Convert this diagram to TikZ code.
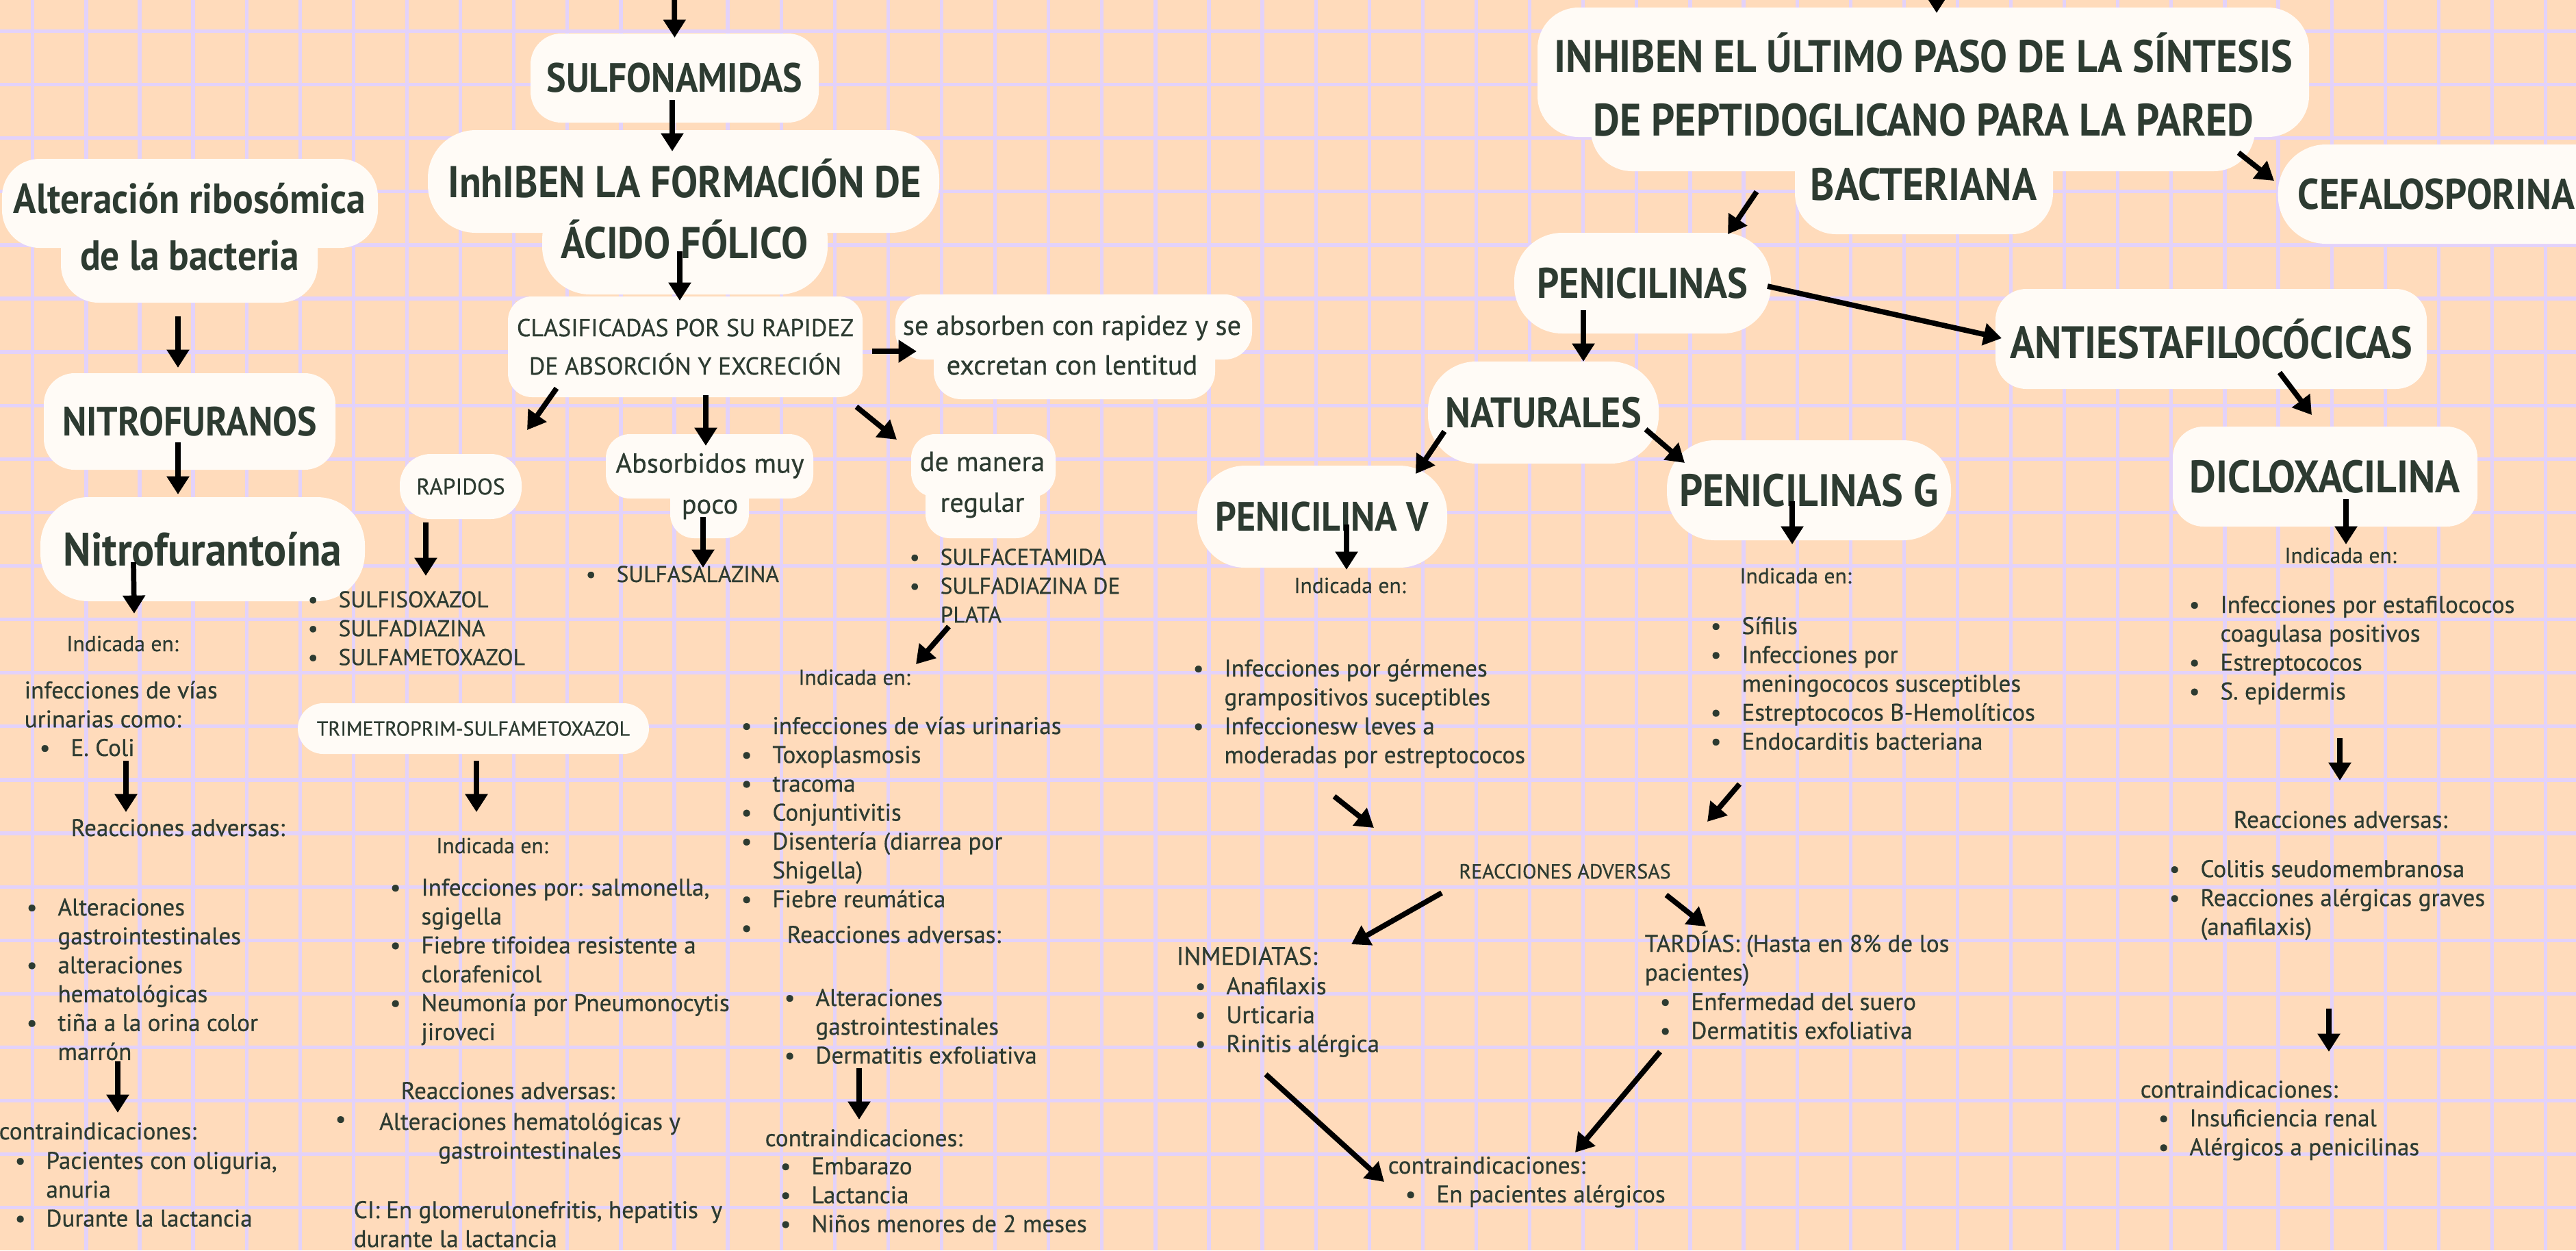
\documentclass[tikz,border=0pt]{standalone}
\usepackage{fontspec}
\setmainfont{PT Sans}[FakeBold=0.6]
\newfontfamily\gruesa{PT Sans Bold}[FakeStretch=0.9]
\usetikzlibrary{arrows.meta}

\definecolor{fondo}{HTML}{FFDBBB}
\definecolor{rejilla}{HTML}{E3D2FA}
\definecolor{crema}{HTML}{FFFBF6}
\definecolor{tinta}{HTML}{2D3B31}

\newcommand{\cuerpo}{\fontsize{10}{12}\selectfont}
\newcommand{\chica}{\fontsize{9}{12}\selectfont}
\newcommand{\mayus}{\fontsize{9.5}{12}\selectfont}
\newcommand{\titular}{\gruesa\fontsize{18.9}{21}\selectfont}
\newcommand{\lista}[1]{\begin{tabular}[t]{@{}l@{\hspace{8.5pt}}l@{}}#1\end{tabular}}
\newcommand{\lineas}[1]{\begin{tabular}[t]{@{}l@{}}#1\end{tabular}}

\begin{document}
\begin{tikzpicture}[x=1cm, y=-1cm,
    caja/.style={fill=crema, rounded corners=0.45cm, inner sep=0pt, text=tinta},
    titulo/.style={caja, font=\titular},
    texto/.style={inner sep=0pt, text=tinta, font=\cuerpo},
    mancha/.style={fill=crema, rounded corners=#1},
    mancha/.default=0.5cm,
    linea/.style={draw=rejilla, line width=1.5pt},
    flecha/.style={line width=2.2pt, -{Triangle[width=9pt,length=7.5pt]}}]
    \useasboundingbox (0,0) rectangle (37.63,18.26);
    \fill[fondo] (0,0) rectangle (37.63,18.26);
    % cuadricula
    \foreach \i in {0,...,47}
        \draw[linea] ({0.478+0.781*\i},0) -- ({0.478+0.781*\i},18.26);
    \foreach \j in {0,...,22}
        \draw[linea] (0,{0.455+0.781*\j}) -- (37.63,{0.455+0.781*\j});

    % Nitrofuranos
    \fill[mancha=0.55cm] (0.03,2.32) rectangle (5.52,3.62) (0.89,3.0) rectangle (4.64,4.42);
    \node[texto, font={\gruesa\fontsize{17.5}{23.6}\selectfont}, align=center] (alt) at (2.77,3.315) {Alteración ribosómica\\de la bacteria};
    \node[titulo, minimum width=4.26cm, minimum height=1.41cm, font={\gruesa\fontsize{17}{20}\selectfont}] (nitros) at (2.77,6.155) {NITROFURANOS};
    \node[titulo, rounded corners=0.7cm, minimum width=4.74cm, minimum height=1.52cm, font={\gruesa\fontsize{19.5}{22}\selectfont}] (nitro) at (2.96,8.02) {Nitrofurantoína};
    \node[texto, anchor=base, font=\chica] (ind1) at (1.79,9.51) {Indicada en:};
    \node[texto, anchor=base west] (inf1) at (0.35,10.20) {\lineas{infecciones de vías\\urinarias como:}};
    \node[texto, anchor=base west] (inf1l) at (0.57,11.04) {\lista{\textbullet & E. Coli}};
    \node[texto, anchor=base] (ra1) at (2.60,12.21) {Reacciones adversas:};
    \node[texto, anchor=base west] (ra1l) at (0.38,13.37) {\lista{\textbullet & Alteraciones\\ & gastrointestinales\\ \textbullet & alteraciones\\ & hematológicas\\ \textbullet & tiña a la orina color\\ & marrón}};
    \node[texto, anchor=base west] (ci1) at (-0.02,16.64) {contraindicaciones:};
    \node[texto, anchor=base west] (ci1l) at (0.21,17.07) {\lista{\textbullet & Pacientes con oliguria,\\ & anuria\\ \textbullet & Durante la lactancia}};

    % Sulfonamidas
    \coordinate (entrada1) at (9.85,-0.3);
    \node[titulo, minimum width=4.21cm, minimum height=1.30cm, font={\gruesa\fontsize{17}{20}\selectfont}] (sulfa) at (9.855,1.14) {SULFONAMIDAS};
    \fill[mancha=0.7cm] (6.25,1.90) rectangle (13.72,3.40) (7.92,2.8) rectangle (12.09,4.30);
    \node[texto, font={\gruesa\fontsize{18.5}{25.3}\selectfont}, align=center] (inhfol) at (10.0,3.055) {InhIBEN LA FORMACIÓN DE\\ÁCIDO FÓLICO};
    \node[caja, rounded corners=0.35cm, minimum width=5.18cm, minimum height=1.47cm, font={\fontsize{10.2}{15.9}\selectfont}, align=center] (clasif) at (10.01,5.065) {CLASIFICADAS POR SU RAPIDEZ\\DE ABSORCIÓN Y EXCRECIÓN};
    \fill[mancha=0.4cm] (13.08,4.30) rectangle (18.29,5.25) (13.64,4.6) rectangle (17.75,5.83);
    \node[texto, font={\fontsize{11.5}{16.5}\selectfont}, align=center] (rapid) at (15.66,5.04) {se absorben con rapidez y se\\excretan con lentitud};
    \node[caja, minimum width=1.78cm, minimum height=0.95cm, font={\fontsize{9.5}{11}\selectfont}] (rapidos) at (6.73,7.105) {RAPIDOS};
    \fill[mancha=0.35cm] (8.85,6.34) rectangle (11.88,7.28) (9.79,6.9) rectangle (10.94,7.86);
    \node[texto, font={\fontsize{11.5}{17}\selectfont}, align=center] (absorb) at (10.37,7.10) {Absorbidos muy\\poco};
    \fill[mancha=0.35cm] (13.31,6.34) rectangle (15.42,7.26) (13.52,6.9) rectangle (15.19,7.86);
    \node[texto, font={\fontsize{11.5}{17}\selectfont}, align=center] (regular) at (14.35,7.08) {de manera\\regular};
    \node[texto, anchor=base west, font=\mayus] (rapl) at (4.49,8.87) {\lista{\textbullet & SULFISOXAZOL\\ \textbullet & SULFADIAZINA\\ \textbullet & SULFAMETOXAZOL}};
    \node[texto, anchor=base west, font=\mayus] (sulfas) at (8.55,8.50) {\lista{\textbullet & SULFASALAZINA}};
    \node[texto, anchor=base west, font=\mayus] (regl) at (13.28,8.25) {\lista{\textbullet & SULFACETAMIDA\\ \textbullet & SULFADIAZINA DE\\ & PLATA}};
    \node[caja, rounded corners=0.37cm, minimum width=5.13cm, minimum height=0.74cm, font={\fontsize{8.5}{10}\selectfont}] (trime) at (6.915,10.64) {TRIMETROPRIM-SULFAMETOXAZOL};
    \node[texto, anchor=base, font=\chica] (ind2) at (7.19,12.46) {Indicada en:};
    \node[texto, anchor=base west] (ind2l) at (5.69,13.08) {\lista{\textbullet & Infecciones por: salmonella,\\ & sgigella\\ \textbullet & Fiebre tifoidea resistente a\\ & clorafenicol\\ \textbullet & Neumonía por Pneumonocytis\\ & jiroveci}};
    \node[texto, anchor=base] (ra2) at (7.42,16.05) {Reacciones adversas:};
    \node[texto, anchor=base west] (ra2b) at (4.89,16.46) {\textbullet};
    \node[texto, anchor=base] (ra2t) at (7.74,16.50) {\begin{tabular}[t]{@{}c@{}}Alteraciones hematológicas y\\gastrointestinales\end{tabular}};
    \node[texto, anchor=base west] (ci2) at (5.16,17.79) {\lineas{CI: En glomerulonefritis, hepatitis\ \ y\\durante la lactancia}};
    \node[texto, anchor=base, font=\chica] (ind3) at (12.48,10.00) {Indicada en:};
    \node[texto, anchor=base west] (ind3l) at (10.82,10.72) {\lista{\textbullet & infecciones de vías urinarias\\ \textbullet & Toxoplasmosis\\ \textbullet & tracoma\\ \textbullet & Conjuntivitis\\ \textbullet & Disentería (diarrea por\\ & Shigella)\\ \textbullet & Fiebre reumática\\ \textbullet & }};
    \node[texto, anchor=base] (ra3) at (13.06,13.77) {Reacciones adversas:};
    \node[texto, anchor=base west] (ra3l) at (11.45,14.69) {\lista{\textbullet & Alteraciones\\ & gastrointestinales\\ \textbullet & Dermatitis exfoliativa}};
    \node[texto, anchor=base west] (ci3) at (11.17,16.74) {contraindicaciones:};
    \node[texto, anchor=base west] (ci3l) at (11.39,17.15) {\lista{\textbullet & Embarazo\\ \textbullet & Lactancia\\ \textbullet & Niños menores de 2 meses}};

    % Penicilinas
    \coordinate (entrada2) at (28.29,-0.3);
    \fill[mancha=0.6cm] (22.46,0.11) rectangle (33.73,2.0) (23.24,1.0) rectangle (32.94,2.50) (26.22,1.9) rectangle (29.99,3.42);
    \node[texto, font={\gruesa\fontsize{18.9}{26.6}\selectfont}, align=center] (inhult) at (28.1,1.705) {INHIBEN EL ÚLTIMO PASO DE LA SÍNTESIS\\DE PEPTIDOGLICANO PARA LA PARED\\BACTERIANA};
    \node[titulo, rounded corners=0.7cm, minimum width=3.75cm, minimum height=1.47cm, font={\gruesa\fontsize{17.8}{20}\selectfont}] (penis) at (23.995,4.135) {PENICILINAS};
    \node[titulo, rounded corners=0.7cm, anchor=west, text width=4.7cm, align=left, inner xsep=0.29cm, minimum height=1.45cm, font={\gruesa\fontsize{17.8}{20}\selectfont}] (cefa) at (33.27,2.835) {CEFALOSPORINA};
    \node[titulo, rounded corners=0.7cm, minimum width=3.37cm, minimum height=1.49cm, font={\gruesa\fontsize{17.7}{20}\selectfont}] (natur) at (22.545,6.025) {NATURALES};
    \node[titulo, minimum width=6.30cm, minimum height=1.46cm] (antie) at (32.30,4.95) {ANTIESTAFILOCÓCICAS};
    \node[titulo, rounded corners=0.7cm, minimum width=3.65cm, minimum height=1.49cm, font={\gruesa\fontsize{17}{20}\selectfont}] (penv) at (19.315,7.545) {PENICILINA V};
    \node[titulo, rounded corners=0.7cm, minimum width=4.15cm, minimum height=1.46cm] (peng) at (26.425,7.16) {PENICILINAS G};
    \node[titulo, minimum width=4.45cm, minimum height=1.46cm] (diclo) at (33.965,6.96) {DICLOXACILINA};
    \node[texto, anchor=base, font=\chica] (ind4) at (19.72,8.66) {Indicada en:};
    \node[texto, anchor=base west] (ind4l) at (17.42,9.88) {\lista{\textbullet & Infecciones por gérmenes\\ & grampositivos suceptibles\\ \textbullet & Infeccionesw leves a\\ & moderadas por estreptococos}};
    \node[texto, anchor=base, font=\chica] (ind5) at (26.23,8.52) {Indicada en:};
    \node[texto, anchor=base west] (ind5l) at (24.98,9.26) {\lista{\textbullet & Sífilis\\ \textbullet & Infecciones por\\ & meningococos susceptibles\\ \textbullet & Estreptococos B-Hemolíticos\\ \textbullet & Endocarditis bacteriana}};
    \node[texto, anchor=base, font={\fontsize{8.5}{12}\selectfont}] (ra4) at (22.86,12.83) {REACCIONES ADVERSAS};
    \node[texto, anchor=base west, font={\fontsize{10.5}{12}\selectfont}] (inm) at (17.18,14.09) {INMEDIATAS:};
    \node[texto, anchor=base west] (inml) at (17.45,14.52) {\lista{\textbullet & Anafilaxis\\ \textbullet & Urticaria\\ \textbullet & Rinitis alérgica}};
    \node[texto, anchor=base west] (tard) at (24.02,13.90) {\lineas{TARDÍAS: (Hasta en 8\% de los\\pacientes)}};
    \node[texto, anchor=base west] (tardl) at (24.24,14.75) {\lista{\textbullet & Enfermedad del suero\\ \textbullet & Dermatitis exfoliativa}};
    \node[texto, anchor=base west] (ci4) at (20.27,17.14) {contraindicaciones:};
    \node[texto, anchor=base west] (ci4l) at (20.52,17.56) {\lista{\textbullet & En pacientes alérgicos}};
    \node[texto, anchor=base, font=\chica] (ind6) at (34.19,8.22) {Indicada en:};
    \node[texto, anchor=base west] (ind6l) at (31.97,8.95) {\lista{\textbullet & Infecciones por estafilococos\\ & coagulasa positivos\\ \textbullet & Estreptococos\\ \textbullet & S. epidermis}};
    \node[texto, anchor=base] (ra6) at (34.19,12.09) {Reacciones adversas:};
    \node[texto, anchor=base west] (ra6l) at (31.68,12.81) {\lista{\textbullet & Colitis seudomembranosa\\ \textbullet & Reacciones alérgicas graves\\ & (anafilaxis)}};
    \node[texto, anchor=base west] (ci6) at (31.26,16.03) {contraindicaciones:};
    \node[texto, anchor=base west] (ci6l) at (31.52,16.45) {\lista{\textbullet & Insuficiencia renal\\ \textbullet & Alérgicos a penicilinas}};

    % flechas
    \draw[flecha] (entrada1) -- ([shift={(0,-0.59)}]sulfa.center);
    \draw[flecha] ([shift={(-0.035,0.32)}]sulfa.center) -- ([shift={(-0.18,-0.845)}]inhfol.center);
    \draw[flecha] ([shift={(-0.07,0.615)}]inhfol.center) -- ([shift={(-0.08,-0.675)}]clasif.center);
    \draw[flecha] ([shift={(2.73,0.065)}]clasif.center) -- ([shift={(-2.27,0.09)}]rapid.center);
    \draw[flecha] ([shift={(-1.88,0.605)}]clasif.center) -- ([shift={(0.97,-0.825)}]rapidos.center);
    \draw[flecha] ([shift={(0.30,0.705)}]clasif.center) -- ([shift={(-0.06,-0.59)}]absorb.center);
    \draw[flecha] ([shift={(2.50,0.875)}]clasif.center) -- ([shift={(-1.25,-0.66)}]regular.center);
    \draw[flecha] ([shift={(-0.51,0.525)}]rapidos.center) -- ([shift={(1.73,-0.46)}]rapl.base west);
    \draw[flecha] ([shift={(-0.10,0.45)}]absorb.center) -- ([shift={(1.72,-0.21)}]sulfas.base west);
    \draw[flecha] ([shift={(0.58,0.90)}]regl.base west) -- ([shift={(0.90,-0.30)}]ind3.base);
    \draw[flecha] ([shift={(1.10,0.91)}]ra3l.base west) -- ([shift={(1.38,-0.39)}]ci3.base west);
    \draw[flecha] ([shift={(-0.17,1.305)}]alt.center) -- ([shift={(-0.17,-0.785)}]nitros.center);
    \draw[flecha] ([shift={(-0.17,0.305)}]nitros.center) -- ([shift={(-0.36,-0.80)}]nitro.center);
    \draw[flecha] ([shift={(-1.01,0.19)}]nitro.center) -- ([shift={(0.17,-0.55)}]ind1.base);
    \draw[flecha] ([shift={(1.27,0.07)}]inf1l.base west) -- ([shift={(-0.76,-0.35)}]ra1.base);
    \draw[flecha] ([shift={(1.34,2.13)}]ra1l.base west) -- ([shift={(1.74,-0.39)}]ci1.base west);
    \draw[flecha] ([shift={(0.045,0.47)}]trime.center) -- ([shift={(-0.23,-0.60)}]ind2.base);
    \draw[flecha] (entrada2) -- ([shift={(0.19,-1.515)}]inhult.center);
    \draw[flecha] ([shift={(-2.44,1.095)}]inhult.center) -- ([shift={(1.245,-0.715)}]penis.center);
    \draw[flecha] ([shift={(4.60,0.525)}]inhult.center) -- ([shift={(-0.05,-0.195)}]cefa.west);
    \draw[flecha] ([shift={(-0.865,0.395)}]penis.center) -- ([shift={(0.585,-0.745)}]natur.center);
    \draw[flecha] ([shift={(1.825,0.045)}]penis.center) -- ([shift={(-3.06,-0.01)}]antie.center);
    \draw[flecha] ([shift={(-1.445,0.275)}]natur.center) -- ([shift={(1.365,-0.625)}]penv.center);
    \draw[flecha] ([shift={(1.495,0.245)}]natur.center) -- ([shift={(-1.815,-0.40)}]peng.center);
    \draw[flecha] ([shift={(0.355,0.115)}]penv.center) -- ([shift={(-0.05,-0.34)}]ind4.base);
    \draw[flecha] ([shift={(-0.245,0.16)}]peng.center) -- ([shift={(-0.05,-0.57)}]ind5.base);
    \draw[flecha] ([shift={(1.00,0.49)}]antie.center) -- ([shift={(-0.195,-0.90)}]diclo.center);
    \draw[flecha] ([shift={(0.305,0.33)}]diclo.center) -- ([shift={(0.08,-0.27)}]ind6.base);
    \draw[flecha] ([shift={(2.21,1.83)}]ind6l.base west) -- ([shift={(-0.01,-0.69)}]ra6.base);
    \draw[flecha] ([shift={(2.34,1.92)}]ra6l.base west) -- ([shift={(2.76,-0.67)}]ci6.base west);
    \draw[flecha] ([shift={(2.07,1.75)}]ind4l.base west) -- ([shift={(-2.79,-0.74)}]ra4.base);
    \draw[flecha] ([shift={(0.43,2.19)}]ind5l.base west) -- ([shift={(2.08,-0.83)}]ra4.base);
    \draw[flecha] ([shift={(-1.80,0.21)}]ra4.base) -- ([shift={(2.56,-0.30)}]inm.base west);
    \draw[flecha] ([shift={(1.48,0.24)}]ra4.base) -- ([shift={(0.90,-0.37)}]tard.base west);
    \draw[flecha] ([shift={(1.04,1.17)}]inml.base west) -- ([shift={(-0.05,0.12)}]ci4.base west);
    \draw[flecha] ([shift={(0.01,0.61)}]tardl.base west) -- ([shift={(2.74,-0.31)}]ci4.base west);
\end{tikzpicture}
\end{document}
